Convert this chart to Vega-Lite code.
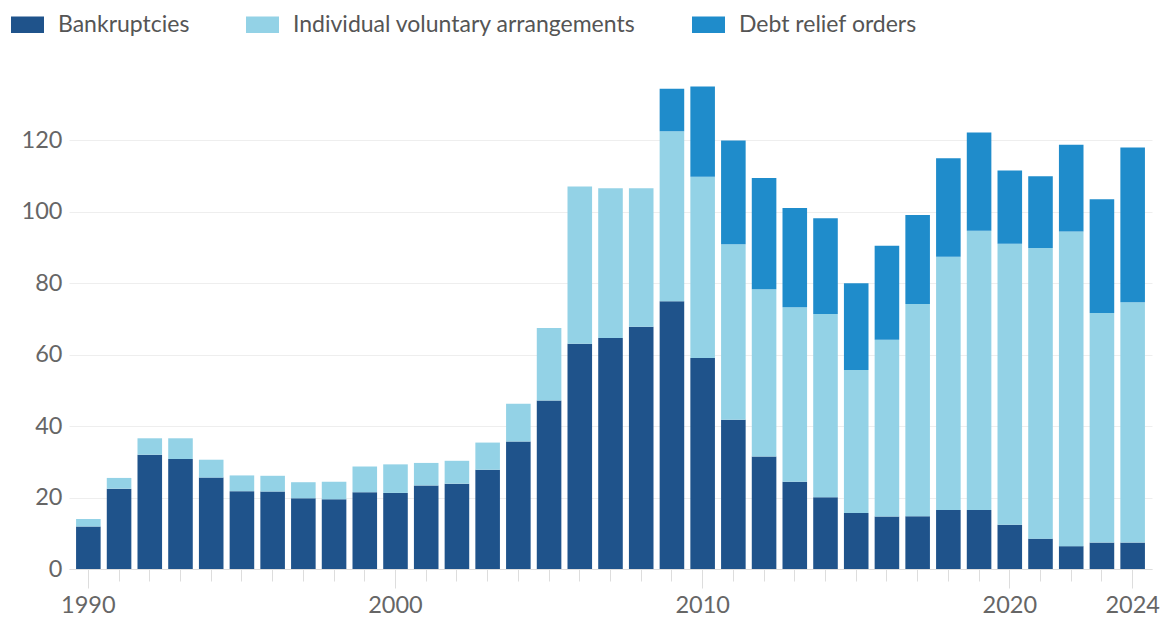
{
  "$schema": "https://vega.github.io/schema/vega-lite/v6.json",
  "width": 1083,
  "height": 500,
  "autosize": {"type": "none"},
  "padding": {"left": 69, "top": 69, "right": 9, "bottom": 50},
  "background": "white",
  "config": {
    "view": {"stroke": null},
    "font": "Lato",
    "axis": {"labelFont": "Lato", "labelFontSize": 23.5, "labelColor": "#666666", "title": null},
    "legend": {"labelFont": "Lato", "labelFontSize": 23, "labelColor": "#555555", "labelLimit": 600}
  },
  "data": {
    "values": [
      {"year": 1990, "Bankruptcies": 11.9, "Individual voluntary arrangements": 2.1, "Debt relief orders": 0},
      {"year": 1991, "Bankruptcies": 22.5, "Individual voluntary arrangements": 3.0, "Debt relief orders": 0},
      {"year": 1992, "Bankruptcies": 32.0, "Individual voluntary arrangements": 4.6, "Debt relief orders": 0},
      {"year": 1993, "Bankruptcies": 30.8, "Individual voluntary arrangements": 5.8, "Debt relief orders": 0},
      {"year": 1994, "Bankruptcies": 25.6, "Individual voluntary arrangements": 5.0, "Debt relief orders": 0},
      {"year": 1995, "Bankruptcies": 21.8, "Individual voluntary arrangements": 4.4, "Debt relief orders": 0},
      {"year": 1996, "Bankruptcies": 21.7, "Individual voluntary arrangements": 4.4, "Debt relief orders": 0},
      {"year": 1997, "Bankruptcies": 19.8, "Individual voluntary arrangements": 4.5, "Debt relief orders": 0},
      {"year": 1998, "Bankruptcies": 19.5, "Individual voluntary arrangements": 4.9, "Debt relief orders": 0},
      {"year": 1999, "Bankruptcies": 21.5, "Individual voluntary arrangements": 7.2, "Debt relief orders": 0},
      {"year": 2000, "Bankruptcies": 21.3, "Individual voluntary arrangements": 8.0, "Debt relief orders": 0},
      {"year": 2001, "Bankruptcies": 23.4, "Individual voluntary arrangements": 6.3, "Debt relief orders": 0},
      {"year": 2002, "Bankruptcies": 23.9, "Individual voluntary arrangements": 6.4, "Debt relief orders": 0},
      {"year": 2003, "Bankruptcies": 27.8, "Individual voluntary arrangements": 7.6, "Debt relief orders": 0},
      {"year": 2004, "Bankruptcies": 35.7, "Individual voluntary arrangements": 10.6, "Debt relief orders": 0},
      {"year": 2005, "Bankruptcies": 47.2, "Individual voluntary arrangements": 20.3, "Debt relief orders": 0},
      {"year": 2006, "Bankruptcies": 63.1, "Individual voluntary arrangements": 44.0, "Debt relief orders": 0},
      {"year": 2007, "Bankruptcies": 64.7, "Individual voluntary arrangements": 41.9, "Debt relief orders": 0},
      {"year": 2008, "Bankruptcies": 67.8, "Individual voluntary arrangements": 38.8, "Debt relief orders": 0},
      {"year": 2009, "Bankruptcies": 75.0, "Individual voluntary arrangements": 47.6, "Debt relief orders": 11.9},
      {"year": 2010, "Bankruptcies": 59.1, "Individual voluntary arrangements": 50.7, "Debt relief orders": 25.3},
      {"year": 2011, "Bankruptcies": 41.8, "Individual voluntary arrangements": 49.1, "Debt relief orders": 29.1},
      {"year": 2012, "Bankruptcies": 31.5, "Individual voluntary arrangements": 46.8, "Debt relief orders": 31.2},
      {"year": 2013, "Bankruptcies": 24.4, "Individual voluntary arrangements": 48.9, "Debt relief orders": 27.8},
      {"year": 2014, "Bankruptcies": 20.1, "Individual voluntary arrangements": 51.3, "Debt relief orders": 26.8},
      {"year": 2015, "Bankruptcies": 15.7, "Individual voluntary arrangements": 40.0, "Debt relief orders": 24.3},
      {"year": 2016, "Bankruptcies": 14.7, "Individual voluntary arrangements": 49.5, "Debt relief orders": 26.3},
      {"year": 2017, "Bankruptcies": 14.8, "Individual voluntary arrangements": 59.4, "Debt relief orders": 24.9},
      {"year": 2018, "Bankruptcies": 16.5, "Individual voluntary arrangements": 70.9, "Debt relief orders": 27.6},
      {"year": 2019, "Bankruptcies": 16.5, "Individual voluntary arrangements": 78.2, "Debt relief orders": 27.5},
      {"year": 2020, "Bankruptcies": 12.4, "Individual voluntary arrangements": 78.7, "Debt relief orders": 20.5},
      {"year": 2021, "Bankruptcies": 8.5, "Individual voluntary arrangements": 81.4, "Debt relief orders": 20.1},
      {"year": 2022, "Bankruptcies": 6.4, "Individual voluntary arrangements": 88.1, "Debt relief orders": 24.3},
      {"year": 2023, "Bankruptcies": 7.4, "Individual voluntary arrangements": 64.3, "Debt relief orders": 31.8},
      {"year": 2024, "Bankruptcies": 7.4, "Individual voluntary arrangements": 67.3, "Debt relief orders": 43.3}
    ]
  },
  "transform": [
    {"fold": ["Bankruptcies", "Individual voluntary arrangements", "Debt relief orders"], "as": ["type", "value"]},
    {"window": [{"op": "row_number", "as": "stackIndex"}], "groupby": ["year"]}
  ],
  "mark": {"type": "bar"},
  "encoding": {
    "x": {
      "field": "year",
      "type": "ordinal",
      "scale": {"paddingInner": 0.2, "paddingOuter": 0.23},
      "axis": {
        "labelAngle": 0,
        "labelExpr": "indexof(['1990','2000','2010','2020','2024'], datum.label) >= 0 ? datum.label : ''",
        "domainColor": "#dddddd",
        "domainWidth": 1,
        "tickColor": "#dddddd",
        "tickSize": {"condition": {"test": "indexof([1990,2000,2010,2020,2024], datum.value) >= 0", "value": 19}, "value": 12},
        "labelPadding": 5,
        "labelBaseline": "top",
        "grid": false
      }
    },
    "y": {
      "field": "value",
      "type": "quantitative",
      "stack": "zero",
      "scale": {"domain": [0, 140], "nice": false},
      "axis": {
        "values": [0, 20, 40, 60, 80, 100, 120],
        "domain": false,
        "ticks": false,
        "labelPadding": 7,
        "gridColor": "#eeeeee",
        "gridWidth": 1
      }
    },
    "color": {
      "field": "type",
      "type": "nominal",
      "sort": ["Bankruptcies", "Individual voluntary arrangements", "Debt relief orders"],
      "scale": {
        "domain": ["Bankruptcies", "Individual voluntary arrangements", "Debt relief orders"],
        "range": ["#1f538b", "#93d2e6", "#1f8ccb"]
      },
      "legend": {
        "title": null,
        "orient": "none",
        "direction": "horizontal",
        "legendX": -58,
        "legendY": -61,
        "padding": 0,
        "symbolType": "M-1,-0.5H1V0.5H-1Z",
        "symbolSize": 1089,
        "symbolStrokeWidth": 0,
        "symbolOpacity": 1,
        "labelOffset": 14,
        "labelLimit": 600,
        "columnPadding": 56
      }
    },
    "order": {"field": "stackIndex", "type": "quantitative", "sort": "ascending"}
  }
}
